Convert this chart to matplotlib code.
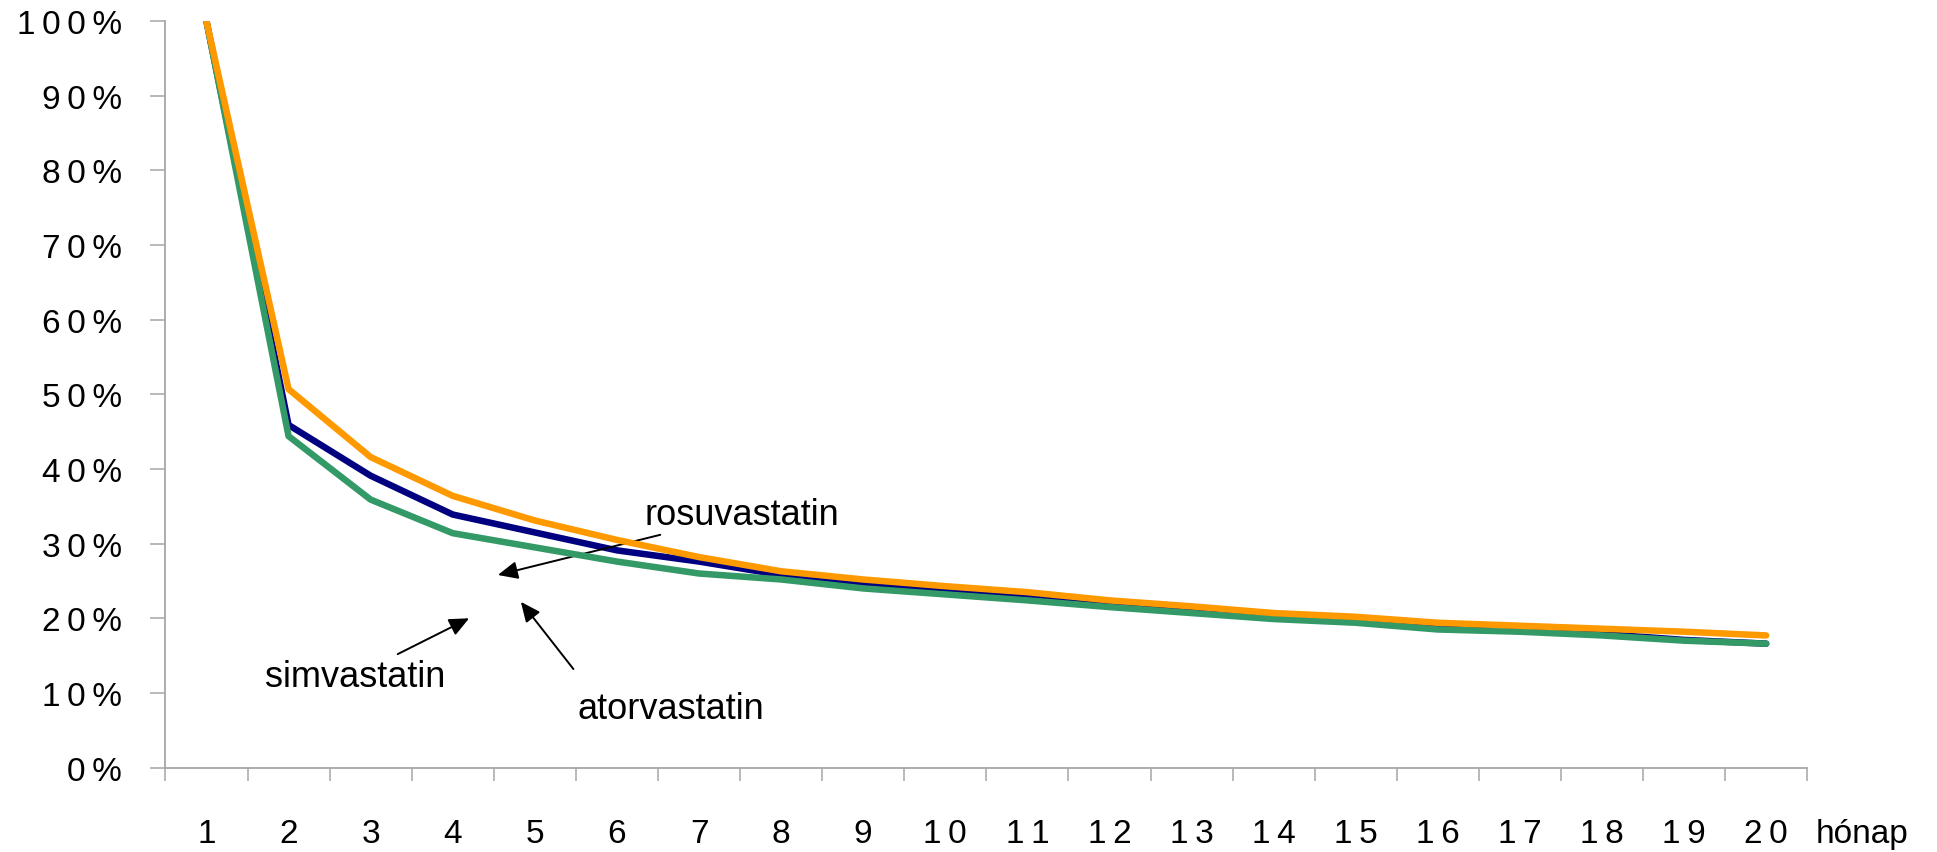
import matplotlib
matplotlib.use("Agg")
import matplotlib.pyplot as plt
import numpy as np

# havi adatok (hónap 1..20), arány %-ban
months = list(range(1, 21))
rosu = [100, 50.7, 41.6, 36.4, 33.1, 30.5, 28.2, 26.3, 25.2, 24.3,
        23.5, 22.4, 21.6, 20.7, 20.2, 19.4, 19.0, 18.6, 18.2, 17.7]
simva = [100, 45.9, 39.1, 33.9, 31.5, 29.1, 27.6, 25.8, 24.6, 23.8,
         23.0, 22.0, 21.2, 20.3, 19.7, 18.7, 18.3, 17.9, 17.1, 16.6]
atorva = [100, 44.4, 35.9, 31.4, 29.5, 27.6, 26.0, 25.2, 24.0, 23.2,
          22.4, 21.5, 20.7, 19.9, 19.4, 18.5, 18.2, 17.7, 17.0, 16.6]
ytick_vals = list(range(0, 101, 10))

font = ["Liberation Sans", "DejaVu Sans"]
grey = "#a6a6a6"
gap = "\u2009"  # the tick labels are letter-spaced in the original

fig = plt.figure(figsize=(19.37, 8.53), dpi=100)
ax = fig.add_axes([0.0854, 0.099, 0.8476, 0.875])

ax.plot(months, simva, color="#000080", lw=4.7, solid_capstyle="round", zorder=3)
ax.plot(months, atorva, color="#339966", lw=4.7, solid_capstyle="round", zorder=4)
ax.plot(months, rosu, color="#ff9900", lw=4.7, solid_capstyle="round", zorder=5)

ax.set_xlim(0.5, 20.5)
ax.set_ylim(0, 100)

for s in ["top", "right"]:
    ax.spines[s].set_visible(False)
for s in ["left", "bottom"]:
    ax.spines[s].set_color(grey)
    ax.spines[s].set_linewidth(1.3)

ax.set_yticks(ytick_vals)
ax.set_yticklabels([gap.join(f"{v}%") for v in ytick_vals],
                   family=font, fontsize=24)
ax.tick_params(axis="y", length=11, width=1.1, color=grey, pad=20)

ax.set_xticks(months)
ax.set_xticklabels([gap.join(str(m)) for m in months],
                   family=font, fontsize=24)
ax.set_xticks(np.arange(0.5, 21, 1), minor=True)
ax.tick_params(axis="x", which="major", length=0, pad=36)
ax.tick_params(axis="x", which="minor", length=9, width=1.1, color=grey)

fig.text(0.9375, 0.0117, "hónap", family=font, fontsize=24,
         ha="left", va="baseline")

arrow = dict(arrowstyle="-|>,head_length=0.6,head_width=0.27", color="black",
             lw=1.4, shrinkA=0, shrinkB=0, mutation_scale=20)
ax.annotate("rosuvastatin", xy=(4.55, 25.8), xytext=(6.34, 33.9),
            fontsize=26, family=font, ha="left", va="center",
            arrowprops=arrow)
ax.annotate("", xy=(4.20, 20.0), xytext=(3.33, 15.2), arrowprops=arrow)
ax.text(2.81, 12.2, "simvastatin", fontsize=26, family=font,
        ha="center", va="center")
ax.annotate("", xy=(4.83, 22.2), xytext=(5.47, 13.2), arrowprops=arrow)
ax.text(6.66, 7.9, "atorvastatin", fontsize=26, family=font,
        ha="center", va="center")

fig.savefig("out.png", dpi=100)
